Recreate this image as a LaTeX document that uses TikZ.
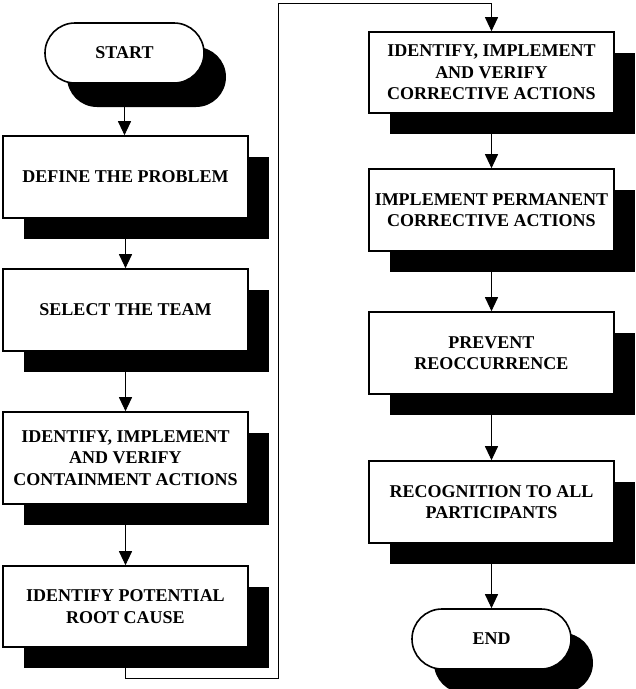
\documentclass[tikz,border=0pt]{standalone}
\usepackage{fontspec}
\setmainfont{Liberation Serif}
\usetikzlibrary{arrows.meta,shadows,shapes.misc,backgrounds}
\tikzset{
  stepbox/.style={draw=black, fill=white, line width=1.6pt, minimum width=245pt,
    minimum height=82pt, align=center, inner sep=2pt,
    font={\fontsize{18}{21.5}\selectfont\bfseries},
    general shadow={shadow xshift=20.5pt, shadow yshift=-20.5pt, fill=black}},
  termbox/.style={rounded rectangle, draw=black, fill=white, line width=1.6pt,
    minimum width=163pt, minimum height=60pt, align=center, inner sep=2pt,
    font={\fontsize{18}{21.5}\selectfont\bfseries},
    general shadow={shadow xshift=22pt, shadow yshift=-24pt, fill=black}},
  conn/.style={draw=black, line width=1pt},
  arr/.style={conn, -{Triangle[length=14pt,width=13pt]}}
}
\begin{document}
\begin{tikzpicture}[x=1pt,y=-1pt]
\useasboundingbox (0,0) rectangle (636,689);
\node[termbox] (start) at (124.5,53) {START};
\node[stepbox] (define) at (125.5,177) {DEFINE THE PROBLEM};
\node[stepbox] (team) at (125.5,310) {SELECT THE TEAM};
\node[stepbox, minimum height=92pt] (contain) at (125.5,458) {IDENTIFY, IMPLEMENT\\AND VERIFY\\CONTAINMENT ACTIONS};
\node[stepbox, minimum height=81pt] (root) at (125.5,606.5) {IDENTIFY POTENTIAL\\ROOT CAUSE};
\node[stepbox, minimum height=81pt] (corr) at (491.5,72.5) {IDENTIFY, IMPLEMENT\\AND VERIFY\\CORRECTIVE ACTIONS};
\node[stepbox] (perm) at (491.5,210) {IMPLEMENT PERMANENT\\CORRECTIVE ACTIONS};
\node[stepbox] (prev) at (491.5,353) {PREVENT\\REOCCURRENCE};
\node[stepbox] (recog) at (491.5,502) {RECOGNITION TO ALL\\PARTICIPANTS};
\node[termbox] (end) at (491.5,639) {END};
\coordinate (c1) at (125.5,678);
\coordinate (c2) at (278,678);
\coordinate (c3) at (278,3);
\coordinate (c4) at (491.5,3);
\begin{scope}[on background layer]
\draw[arr] (start.south) -- (start.south |- define.north);
\draw[arr] (define) -- (team);
\draw[arr] (team) -- (contain);
\draw[arr] (contain) -- (root);
\draw[arr] (root.south) -- (c1) -- (c2) -- (c3) -- (c4) -- (corr.north);
\draw[arr] (corr) -- (perm);
\draw[arr] (perm) -- (prev);
\draw[arr] (prev) -- (recog);
\draw[arr] (recog) -- (end);
\end{scope}
\end{tikzpicture}
\end{document}
